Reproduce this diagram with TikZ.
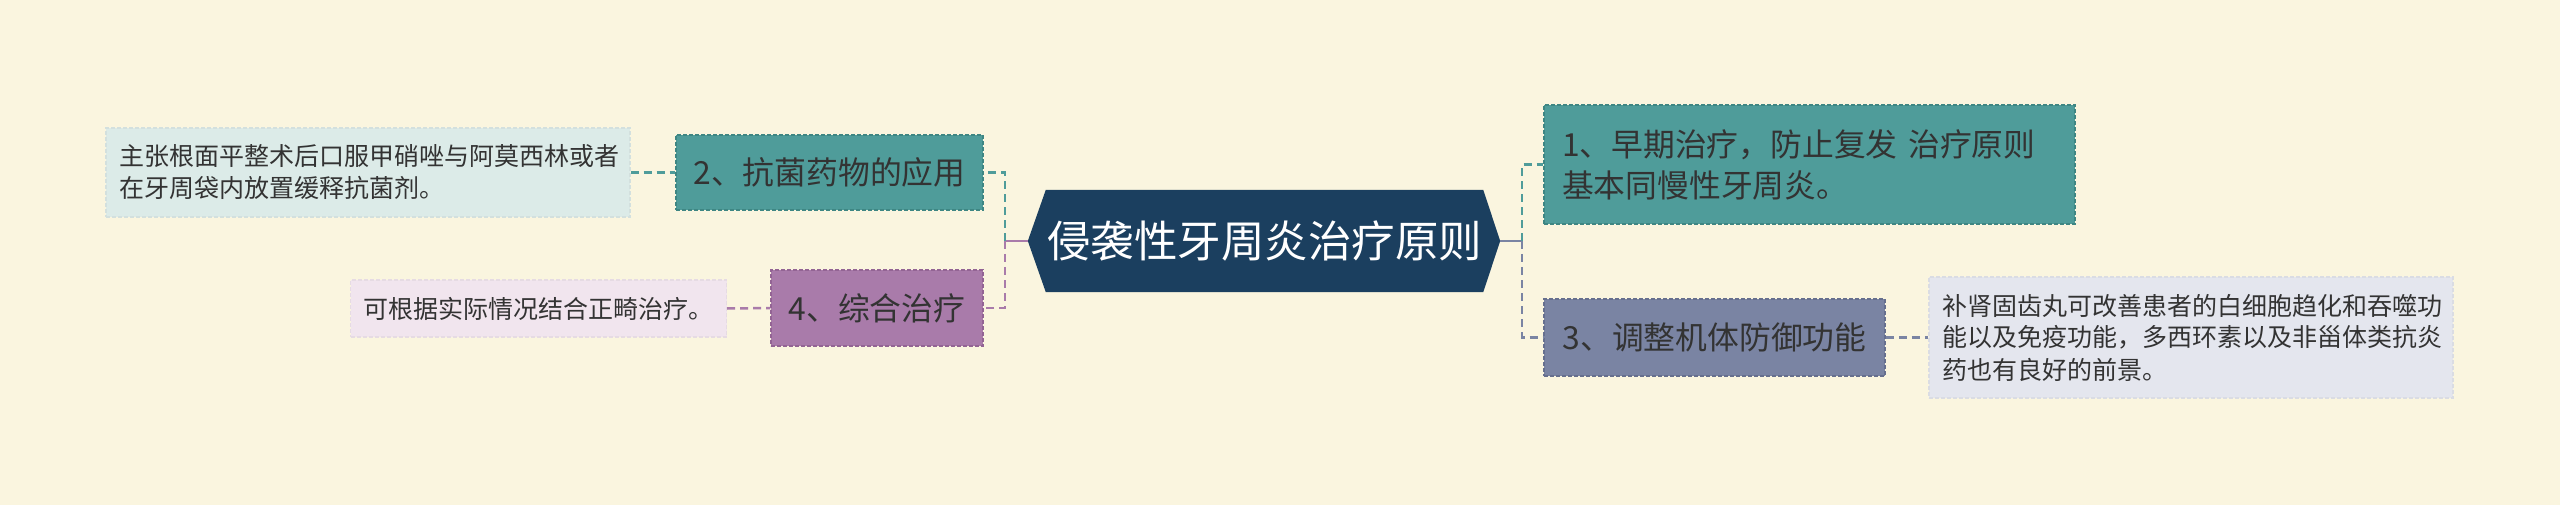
\documentclass[tikz,border=0pt]{standalone}
\usepackage{fontspec}
\setmainfont{Noto Sans CJK SC}
\usetikzlibrary{backgrounds,calc}
\definecolor{bgc}{HTML}{FAF5DF}
\definecolor{navy}{HTML}{1B3F5F}
\definecolor{teal1}{HTML}{4F9C9A}
\definecolor{teal1d}{HTML}{3E8683}
\definecolor{slate}{HTML}{7A84A3}
\definecolor{slated}{HTML}{666F8E}
\definecolor{purp}{HTML}{A97BAA}
\definecolor{purpd}{HTML}{936494}
\definecolor{lteal}{HTML}{DCEBE8}
\definecolor{lpurp}{HTML}{F1E5EE}
\definecolor{lslate}{HTML}{E4E6EE}
\definecolor{txt}{HTML}{333333}
\tikzset{
  topic/.style={rectangle, draw, dashed, dash pattern=on 4pt off 2pt, line width=1.5pt, inner sep=0pt, text=txt, font=\fontsize{31.8}{41}\selectfont},
  detail/.style={rectangle, draw, dashed, dash pattern=on 4pt off 2pt, line width=1.2pt, inner xsep=13pt, inner ysep=0pt, text=txt, align=left, font=\fontsize{25}{32}\selectfont},
  conn/.style={line width=2.5pt, dash pattern=on 8pt off 5pt},
}
\begin{document}
\begin{tikzpicture}[x=1pt,y=-1pt]
\useasboundingbox (0,0) rectangle (2560,505);
% central topic
\node[font=\fontsize{43.5}{50}\selectfont, text=white, minimum width=437pt, minimum height=102pt, inner sep=0pt] (c) at (1264.5,241) {侵袭性牙周炎治疗原则};
\begin{pgfonlayer}{background}
\fill[bgc] (0,0) rectangle (2560,505);
\fill[navy] (c.north west) -- (c.north east) -- ($(c.east)+(17pt,0)$) coordinate (ce) -- (c.south east) -- (c.south west) -- ($(c.west)+(-18pt,0)$) coordinate (cw) -- cycle;
\end{pgfonlayer}
% main topics
\node[topic, fill=teal1, draw=teal1d, minimum width=531pt, minimum height=119pt, text width=495pt, inner xsep=18pt, align=left] (n1) at (1809.5,164.5) {1、早期治疗，防止复发 治疗原则\\基本同慢性牙周炎。};
\node[topic, fill=teal1, draw=teal1d, minimum width=307pt, minimum height=75pt] (n2) at (829.5,172.5) {2、抗菌药物的应用};
\node[topic, fill=slate, draw=slated, minimum width=341pt, minimum height=77pt] (n3) at (1714.5,337.5) {3、调整机体防御功能};
\node[topic, fill=purp, draw=purpd, minimum width=212pt, minimum height=76pt] (n4) at (877,308) {4、综合治疗};
% details
\node[detail, fill=lteal, draw=lteal!90!gray, text width=498pt, minimum height=89pt] (d2) at (368,172.5) {主张根面平整术后口服甲硝唑与阿莫西林或者\\在牙周袋内放置缓释抗菌剂。};
\node[detail, fill=lslate, draw=lslate!90!gray, text width=498pt, minimum height=121pt] (d3) at (2191,337.5) {补肾固齿丸可改善患者的白细胞趋化和吞噬功\\能以及免疫功能，多西环素以及非甾体类抗炎\\药也有良好的前景。};
\node[detail, fill=lpurp, draw=lpurp!90!gray, minimum width=375pt, minimum height=57pt, align=center] (d4) at (538.5,308.5) {可根据实际情况结合正畸治疗。};
% junctions
\coordinate (lj) at (1005,241);
\coordinate (rj) at (1522,241);
% connectors
\draw[purp, line width=2.5pt] (cw) -- (lj);
\draw[slate, line width=2.5pt] (ce) -- (rj);
\draw[conn, teal1] (lj) |- (n2.east);
\draw[conn, purp] (lj) |- (n4.east);
\draw[conn, teal1] (rj) |- (n1.west);
\draw[conn, slate] (rj) |- (n3.west);
\draw[conn, teal1] (d2.east) -- (n2.west);
\draw[conn, purp] (d4.east) -- (n4.west);
\draw[conn, slate] (n3.east) -- (d3.west);
\end{tikzpicture}
\end{document}
